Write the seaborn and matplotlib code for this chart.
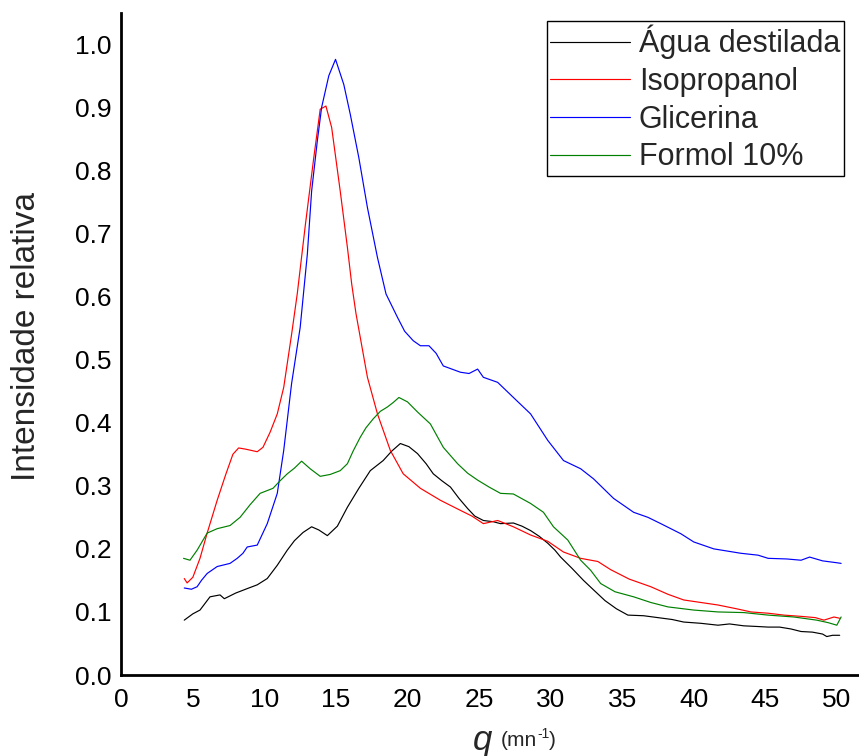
import pandas as pd
import numpy as np
import matplotlib
matplotlib.use("Agg")
import matplotlib.pyplot as plt
import seaborn as sns

# Curves (q in mn^-1, relative intensity)
agua_q = [4.4, 5.0, 5.5, 6.2, 6.9, 7.2, 8.0, 8.8, 9.5, 10.2, 10.9, 11.6, 12.1, 12.7,
          13.3, 13.8, 14.4, 15.1, 15.8, 16.6, 17.4, 18.3, 18.9, 19.5, 20.1, 20.7, 21.3,
          21.8, 22.4, 23.0, 23.6, 24.2, 24.7, 25.3, 26.0, 26.5, 27.4, 28.0, 28.6, 29.2,
          29.8, 30.3, 30.7, 31.1, 31.5, 32.3, 33.0, 33.8, 34.6, 35.4, 36.5, 37.5, 38.5,
          39.3, 40.5, 41.7, 42.5, 43.5, 44.4, 45.2, 46.0, 46.8, 47.5, 48.3, 49.0, 49.3,
          49.7, 50.2]
agua_i = [0.087, 0.097, 0.103, 0.124, 0.127, 0.121, 0.130, 0.137, 0.143, 0.153, 0.174,
          0.198, 0.213, 0.226, 0.235, 0.230, 0.221, 0.236, 0.266, 0.296, 0.324, 0.340,
          0.355, 0.367, 0.362, 0.351, 0.335, 0.319, 0.308, 0.298, 0.280, 0.264, 0.252,
          0.245, 0.243, 0.240, 0.241, 0.236, 0.229, 0.220, 0.209, 0.198, 0.187, 0.178,
          0.169, 0.150, 0.135, 0.118, 0.105, 0.095, 0.094, 0.091, 0.088, 0.084, 0.082,
          0.079, 0.081, 0.078, 0.077, 0.076, 0.076, 0.073, 0.069, 0.068, 0.065, 0.061,
          0.063, 0.063]

iso_q = [4.4, 4.6, 5.0, 5.5, 6.0, 6.7, 7.3, 7.8, 8.2, 8.7, 9.5, 9.9, 10.4, 10.9, 11.35,
         11.9, 12.3, 12.87, 13.45, 13.9, 14.3, 14.7, 15.3, 15.8, 16.1, 16.4, 17.2, 17.9,
         18.8, 19.7, 20.9, 22.3, 23.7, 24.5, 25.3, 26.3, 27.4, 28.6, 29.8, 30.9, 32.1,
         33.3, 34.2, 35.5, 37.0, 38.2, 39.3, 40.5, 41.7, 43.0, 44.0, 45.2, 46.3, 47.5,
         48.5, 49.1, 49.8, 50.2]
iso_i = [0.153, 0.146, 0.155, 0.185, 0.225, 0.277, 0.318, 0.350, 0.360, 0.358, 0.354,
         0.361, 0.385, 0.414, 0.456, 0.540, 0.605, 0.715, 0.820, 0.897, 0.902, 0.868,
         0.767, 0.678, 0.620, 0.573, 0.472, 0.414, 0.356, 0.319, 0.296, 0.277, 0.261,
         0.252, 0.240, 0.245, 0.235, 0.222, 0.212, 0.195, 0.185, 0.180, 0.167, 0.152,
         0.140, 0.128, 0.119, 0.115, 0.111, 0.105, 0.100, 0.098, 0.095, 0.093, 0.091,
         0.087, 0.092, 0.090]

gli_q = [4.4, 4.9, 5.3, 5.6, 6.0, 6.7, 7.6, 8.1, 8.5, 8.8, 9.5, 10.2, 10.9, 11.35, 11.9,
         12.5, 13.0, 13.3, 13.7, 14.0, 14.5, 14.97, 15.55, 16.0, 16.6, 17.2, 17.9, 18.5,
         19.3, 19.8, 20.4, 20.9, 21.5, 22.0, 22.5, 23.1, 23.7, 24.3, 24.9, 25.3, 25.8,
         26.3, 27.4, 28.6, 29.8, 30.9, 32.1, 33.0, 34.4, 35.8, 36.8, 37.7, 39.1, 40.0,
         41.4, 43.3, 44.5, 45.2, 46.5, 47.5, 48.1, 49.0, 50.0, 50.3]
gli_i = [0.138, 0.136, 0.140, 0.150, 0.161, 0.172, 0.177, 0.185, 0.193, 0.203, 0.206,
         0.240, 0.288, 0.356, 0.462, 0.551, 0.667, 0.767, 0.847, 0.900, 0.950, 0.976,
         0.936, 0.889, 0.820, 0.741, 0.662, 0.604, 0.567, 0.545, 0.530, 0.522, 0.522,
         0.510, 0.490, 0.485, 0.480, 0.478, 0.485, 0.472, 0.468, 0.464, 0.440, 0.414,
         0.372, 0.340, 0.327, 0.311, 0.280, 0.258, 0.250, 0.240, 0.224, 0.211, 0.200,
         0.193, 0.190, 0.185, 0.184, 0.182, 0.187, 0.181, 0.178, 0.177]

form_q = [4.35, 4.8, 5.3, 6.0, 6.7, 7.6, 8.3, 9.0, 9.7, 10.6, 11.1, 11.6, 12.1, 12.6,
          13.2, 13.9, 14.6, 15.3, 15.8, 16.2, 16.7, 17.1, 17.6, 18.1, 18.6, 19.0, 19.4,
          20.0, 20.7, 21.6, 22.5, 23.5, 24.2, 24.9, 25.7, 26.5, 27.4, 28.6, 29.5, 30.2,
          31.2, 32.1, 32.8, 33.5, 34.5, 35.8, 37.0, 38.2, 40.0, 41.7, 43.5, 45.2, 47.0,
          48.6, 49.4, 50.0, 50.3]
form_i = [0.185, 0.182, 0.198, 0.225, 0.232, 0.237, 0.250, 0.270, 0.288, 0.296, 0.308,
          0.319, 0.328, 0.339, 0.327, 0.315, 0.318, 0.324, 0.335, 0.355, 0.377, 0.392,
          0.406, 0.418, 0.425, 0.432, 0.440, 0.433, 0.417, 0.398, 0.361, 0.335, 0.320,
          0.309, 0.298, 0.288, 0.287, 0.272, 0.258, 0.235, 0.214, 0.182, 0.166, 0.145,
          0.132, 0.124, 0.115, 0.108, 0.103, 0.100, 0.099, 0.095, 0.092, 0.087, 0.083,
          0.079, 0.092]

labels = ["Água destilada", "Isopropanol", "Glicerina", "Formol 10%"]
colors = ["#000000", "#ff0000", "#0000ff", "#008000"]
x_ticks = [0, 5, 10, 15, 20, 25, 30, 35, 40, 45, 50]
y_ticks = [0.0, 0.1, 0.2, 0.3, 0.4, 0.5, 0.6, 0.7, 0.8, 0.9, 1.0]

frames = []
for name, q, i in zip(labels, [agua_q, iso_q, gli_q, form_q], [agua_i, iso_i, gli_i, form_i]):
    frames.append(pd.DataFrame({"q": q, "I": i, "amostra": name}))
df = pd.concat(frames, ignore_index=True)

sns.set_theme(style="white")
plt.rcParams["font.family"] = ["Liberation Sans", "DejaVu Sans"]

fig = plt.figure(figsize=(8.59, 7.56), dpi=100)
ax = fig.add_axes([0.1412, 0.1071, 0.8588, 0.8753])

sns.lineplot(data=df, x="q", y="I", hue="amostra", hue_order=labels,
             palette=dict(zip(labels, colors)), sort=False, estimator=None,
             linewidth=0.85, ax=ax, legend=False)

ax.set_xlim(0, 51.55)
ax.set_ylim(0, 1.049)
ax.set_xticks(x_ticks)
ax.set_xticklabels([str(t) for t in x_ticks])
ax.set_yticks(y_ticks)
ax.set_yticklabels([f"{t:.1f}" for t in y_ticks])
ax.tick_params(axis="both", length=0, labelsize=19, colors="black")
ax.tick_params(axis="x", pad=9)
ax.tick_params(axis="y", pad=7)
ax.set_xlabel("")
ax.set_ylabel("")

for side in ["top", "right"]:
    ax.spines[side].set_visible(False)
for side in ["left", "bottom"]:
    ax.spines[side].set_color("black")
    ax.spines[side].set_linewidth(2)

# axis titles
fig.text(0.031, 0.555, "Intensidade relativa", rotation=90, fontsize=24,
         ha="center", va="center")
fig.text(0.562, 0.021, "q", fontsize=25, style="italic", ha="center", va="center")
t1 = fig.text(0.583, 0.021, "(mn", fontsize=15, ha="left", va="center")
t2 = ax.annotate("-1", xy=(1.0, 0.8), xycoords=t1, fontsize=10,
                 ha="left", va="center", annotation_clip=False)
ax.annotate(")", xy=(1.0, 0.5), xycoords=(t2, t1), fontsize=15,
            ha="left", va="center", annotation_clip=False)

handles = [plt.Line2D([], [], color=c, linewidth=0.85) for c in colors]
leg = ax.legend(handles, labels, loc="upper right", bbox_to_anchor=(0.9797, 0.988),
                fontsize=22, frameon=True, fancybox=False, framealpha=1,
                edgecolor="black", handlelength=2.6, handletextpad=0.3,
                labelspacing=0.25, borderpad=0.12, borderaxespad=0)
leg.get_frame().set_linewidth(1.0)

fig.savefig("out.png", dpi=100)
